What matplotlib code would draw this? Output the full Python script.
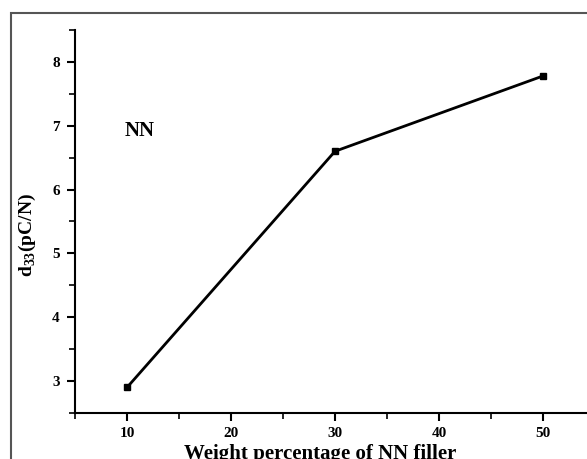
import matplotlib.pyplot as plt
from matplotlib.patches import Rectangle
from matplotlib.ticker import MultipleLocator

wt = [10, 30, 50]              # weight percentage of NN filler
d33 = [2.9, 6.6, 7.78]         # d33 in pC/N

plt.rcParams['font.family'] = ['Liberation Serif', 'DejaVu Serif']
plt.rcParams['font.weight'] = 'bold'
plt.rcParams['mathtext.fontset'] = 'custom'
plt.rcParams['mathtext.rm'] = 'Liberation Serif:bold'
plt.rcParams['mathtext.bf'] = 'Liberation Serif:bold'

W, H = 587, 459
fig = plt.figure(figsize=(W / 100, H / 100), dpi=100)

# outer gray frame (runs off the right and bottom edge like the crop)
fig.patches.append(Rectangle((11 / W, -0.1), 1.2, 1 - 13 / H + 0.1,
                             transform=fig.transFigure, fill=False,
                             edgecolor='#555555', linewidth=1.5))

# axes: x 5..55 -> 75px..595px, y 2.5..8.5 -> 413px..30px
ax = fig.add_axes([75 / W, 1 - 413 / H, 520 / W, 383 / H])
ax.plot(wt, d33, color='black', linewidth=2, marker='s', markersize=5)

ax.set_xlim(5, 55)
ax.set_ylim(2.5, 8.5)
ax.xaxis.set_major_locator(MultipleLocator(10))
ax.xaxis.set_minor_locator(MultipleLocator(5))
ax.yaxis.set_major_locator(MultipleLocator(1))
ax.yaxis.set_minor_locator(MultipleLocator(0.5))
ax.spines['top'].set_visible(False)
ax.spines['right'].set_visible(False)
for s in ('left', 'bottom'):
    ax.spines[s].set_linewidth(1.5)
ax.tick_params(which='major', direction='out', length=6, width=1.5, labelsize=11, pad=5)
ax.tick_params(axis='x', which='major', pad=4)
ax.tick_params(which='minor', direction='out', length=4, width=1.2)
for lab in ax.get_xticklabels() + ax.get_yticklabels():
    lab.set_fontweight('bold')

ax.set_xlabel('Weight percentage of NN filler', fontsize=15, fontweight='bold')
ax.xaxis.set_label_coords(0.471, -0.08)
ax.set_ylabel('d$_{\\mathrm{33}}$(pC/N)', fontsize=14, fontweight='bold')
ax.yaxis.set_label_coords(-0.071, 0.465)
ax.text(11.25, 6.92, 'NN', fontsize=15, fontweight='bold', ha='center', va='center')

fig.savefig('out.png', dpi=100)
